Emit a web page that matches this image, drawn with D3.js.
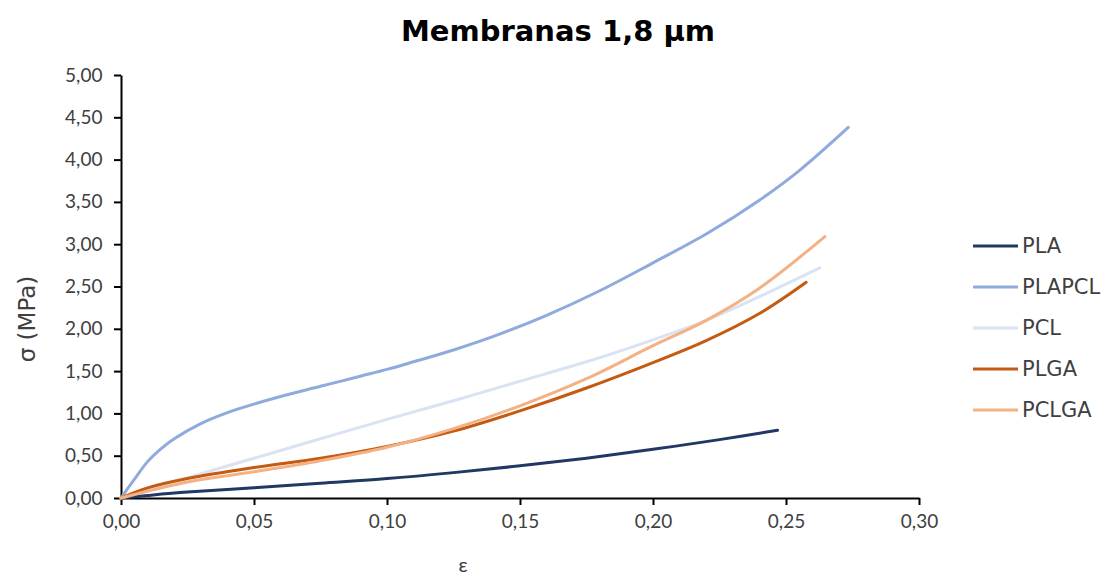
<!DOCTYPE html>
<html><head><meta charset="utf-8">
<script src="https://cdn.jsdelivr.net/npm/d3@7"></script>
<style>
body{margin:0;background:#fff;}
</style></head>
<body><svg id="c" width="1108" height="578"></svg>
<script>
const title = "Membranas 1,8 µm";
const seriesNames = ["PLA","PLAPCL","PCL","PLGA","PCLGA"];
const seriesColors = ["#203864","#8FAADC","#DAE3F3","#C55A11","#F4B183"];
const xTicks = [0,0.05,0.10,0.15,0.20,0.25,0.30];
const yTicks = [0,0.5,1,1.5,2,2.5,3,3.5,4,4.5,5];

const PLA = [[0,0],[0.01,0.03],[0.025,0.07],[0.05,0.12],[0.075,0.175],[0.1,0.23],[0.125,0.30],[0.15,0.38],[0.175,0.47],[0.2,0.575],[0.225,0.69],[0.2468,0.80]];
const PLAPCL = [[0,0],[0.005,0.22],[0.01,0.43],[0.015,0.58],[0.02,0.70],[0.03,0.88],[0.04,1.01],[0.05,1.11],[0.06,1.2],[0.075,1.32],[0.09,1.44],[0.1,1.52],[0.11,1.61],[0.125,1.75],[0.14,1.91],[0.16,2.16],[0.18,2.45],[0.2,2.78],[0.22,3.12],[0.24,3.52],[0.255,3.87],[0.2734,4.38]];
const PCL = [[0,0],[0.025,0.24],[0.05,0.47],[0.075,0.70],[0.1,0.93],[0.125,1.15],[0.15,1.38],[0.175,1.61],[0.2,1.87],[0.22,2.1],[0.24,2.38],[0.2627,2.72]];
const PLGA = [[0,0],[0.01,0.12],[0.025,0.23],[0.05,0.36],[0.075,0.47],[0.1,0.61],[0.125,0.79],[0.15,1.03],[0.175,1.3],[0.2,1.6],[0.22,1.86],[0.24,2.18],[0.2576,2.55]];
const PCLGA = [[0,0],[0.025,0.19],[0.05,0.31],[0.075,0.44],[0.1,0.6],[0.125,0.82],[0.15,1.09],[0.175,1.41],[0.2,1.8],[0.22,2.1],[0.24,2.48],[0.2646,3.09]];
const seriesData = [PLA,PLAPCL,PCL,PLGA,PCLGA];

const svg = d3.select("#c");
const x = d3.scaleLinear().domain([0,0.30]).range([121,919]);
const y = d3.scaleLinear().domain([0,5]).range([498,75]);
const fmt = d => d.toFixed(2).replace(".", ",");
const LATO = "Lato, 'Noto Sans', sans-serif";
const DJV = "'DejaVu Sans', sans-serif";

svg.append("text").attr("x",558).attr("y",41).attr("text-anchor","middle")
  .style("font-size","29px").style("font-weight","bold").style("font-family",DJV)
  .attr("fill","#000").text(title);

const xa = svg.append("g").attr("transform","translate(0,498)")
  .call(d3.axisBottom(x).tickValues(xTicks).tickFormat(fmt).tickSize(7).tickSizeOuter(0));
const ya = svg.append("g").attr("transform","translate(121,0)")
  .call(d3.axisLeft(y).tickValues(yTicks).tickFormat(fmt).tickSize(7).tickSizeOuter(0));
[xa,ya].forEach(g=>{
  g.select(".domain").attr("stroke","#000").attr("stroke-width",2);
  g.selectAll(".tick line").attr("stroke","#000").attr("stroke-width",2);
  g.selectAll(".tick text").style("font-size","19px").attr("fill","#404040").style("font-family",LATO);
});
xa.selectAll(".tick text").attr("dy","1.05em");
ya.selectAll(".tick text").attr("dx","-0.45em");

const line = d3.line().x(d=>x(d[0])).y(d=>y(d[1])).curve(d3.curveCatmullRom.alpha(0.5));
seriesData.forEach((s,i)=>{
  svg.append("path").datum(s).attr("d",line).attr("fill","none")
    .attr("stroke",seriesColors[i]).attr("stroke-width",3).attr("stroke-linecap","round");
});

svg.append("text").attr("x",463).attr("y",572).attr("text-anchor","middle")
  .style("font-size","20px").style("font-family",LATO).attr("fill","#404040").text("ε");
svg.append("text").attr("transform","translate(35,319) rotate(-90)").attr("text-anchor","middle")
  .style("font-size","23px").style("font-family",DJV).attr("fill","#404040").text("σ (MPa)");

const lg = svg.append("g");
seriesNames.forEach((n,i)=>{
  const yy = 246 + i*41;
  lg.append("line").attr("x1",973).attr("x2",1018).attr("y1",yy).attr("y2",yy)
    .attr("stroke",seriesColors[i]).attr("stroke-width",3);
  lg.append("text").attr("x",1022).attr("y",yy).attr("dy","0.35em")
    .style("font-size","21px").style("font-family",DJV).attr("fill","#404040").text(n);
});
</script></body></html>
